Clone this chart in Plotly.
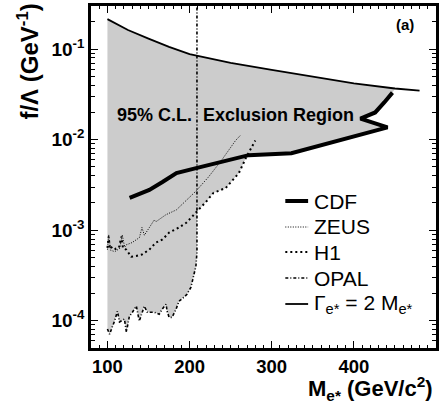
import plotly.graph_objects as go

# ---------------- data ----------------
GAMMA_M = [100, 125, 150, 175, 200, 250, 300, 350, 400, 450, 480]
GAMMA_F = [0.215, 0.163, 0.131, 0.106, 0.088, 0.0705, 0.059, 0.0495, 0.0418, 0.0368, 0.0348]

CDF_M = [127, 151, 167, 184, 208, 239, 272, 324, 441, 408, 426, 437, 447]
CDF_F = [2.28e-3, 2.79e-3, 3.41e-3, 4.28e-3, 4.85e-3, 5.65e-3, 6.75e-3, 7.1e-3,
         1.37e-2, 1.71e-2, 2.0e-2, 2.58e-2, 3.31e-2]

ZEUS_M = [100, 101.5, 104, 109, 115, 118, 121, 123, 130, 139, 142, 145, 147, 157,
          159, 171, 184, 196, 208, 223, 239, 256, 262]
ZEUS_F = [6.1e-4, 8.9e-4, 6.0e-4, 5.8e-4, 6.3e-4, 8.9e-4, 6.5e-4, 6.9e-4, 7.3e-4,
          8.3e-4, 1.07e-3, 8.8e-4, 9.4e-4, 1.30e-3, 1.24e-3, 1.48e-3, 1.68e-3,
          2.16e-3, 2.72e-3, 3.87e-3, 5.94e-3, 9.8e-3, 1.12e-2]

H1_M = [100, 101.5, 103, 106, 110, 114, 117, 119, 123, 129, 135, 142, 151, 159,
        167, 175, 187, 196, 203, 209, 220, 229, 244, 260, 269, 280]
H1_F = [6.4e-4, 8.5e-4, 6.2e-4, 6.6e-4, 6.2e-4, 6.4e-4, 8.5e-4, 6.3e-4, 6.1e-4,
        5.1e-4, 5.2e-4, 5.4e-4, 6.1e-4, 7.3e-4, 7.9e-4, 9.4e-4, 1.07e-3, 1.21e-3,
        1.41e-3, 1.60e-3, 2.06e-3, 2.58e-3, 2.93e-3, 4.28e-3, 6.4e-3, 9.8e-3]

OPAL_M = [100, 102.6, 108.6, 112.2, 114.7, 120.7, 123.1, 126.7, 130.4, 135.2, 138.8,
          141.2, 144.9, 148.5, 156.9, 163, 166.6, 171.4, 172.7, 175.1, 178.7, 183.5,
          187.1, 193.2, 196.8, 201.6, 204.1, 207.7, 209, 209]
OPAL_F = [8.1e-5, 7.1e-5, 9.9e-5, 1.27e-4, 9.7e-5, 1.04e-4, 7.5e-5, 1.12e-4, 1.24e-4,
          1.45e-4, 9.9e-5, 1.18e-4, 1.45e-4, 1.24e-4, 1.24e-4, 1.18e-4, 1.34e-4,
          1.52e-4, 1.27e-4, 1.09e-4, 1.09e-4, 1.34e-4, 1.64e-4, 1.82e-4, 1.96e-4,
          2.34e-4, 2.86e-4, 4.0e-4, 5.7e-4, 0.3]

X_TICKS = [100, 200, 300, 400]
X_TICKTEXT = ["100", "200", "300", "400"]
Y_TICKS = [1e-4, 1e-3, 1e-2, 1e-1]
Y_TICKTEXT = ["10<sup>-4</sup>", "10<sup>-3</sup>", "10<sup>-2</sup>", "10<sup>-1</sup>"]

LEGEND_LABELS = ["CDF", "ZEUS", "H1", "OPAL", "Γ<sub>e*</sub> = 2 M<sub>e*</sub>"]

# ---------------- exclusion region polygon (union of limits) ----------------
g_idx = [i for i, m in enumerate(GAMMA_M) if m <= 450]
c_idx = [i for i, m in enumerate(CDF_M) if m >= 272]
h_idx = [i for i, m in enumerate(H1_M) if 209 <= m <= 269]
o_idx = list(range(len(OPAL_M) - 1))  # OPAL curve without the vertical top point

poly_x = ([GAMMA_M[i] for i in g_idx] + [CDF_M[i] for i in reversed(c_idx)]
          + [H1_M[i] for i in reversed(h_idx)] + [OPAL_M[i] for i in reversed(o_idx)])
poly_y = ([GAMMA_F[i] for i in g_idx] + [CDF_F[i] for i in reversed(c_idx)]
          + [H1_F[i] for i in reversed(h_idx)] + [OPAL_F[i] for i in reversed(o_idx)])

FONT = "Liberation Sans, Arial, Helvetica, sans-serif"

fig = go.Figure()
fig.add_trace(go.Scatter(x=poly_x, y=poly_y, fill="toself", fillcolor="#cccccc",
                         mode="lines", line=dict(width=0), hoverinfo="skip",
                         showlegend=False))

STYLES = {
    "CDF": dict(color="black", width=4),
    "ZEUS": dict(color="black", width=1, dash="1px,1.5px"),
    "H1": dict(color="black", width=2, dash="2px,3px"),
    "OPAL": dict(color="black", width=1.6, dash="3px,2px,1px,2px"),
    "GAMMA": dict(color="black", width=1.8),
}

fig.add_trace(go.Scatter(x=OPAL_M, y=OPAL_F, mode="lines", line=STYLES["OPAL"], name="OPAL", showlegend=False))
fig.add_trace(go.Scatter(x=ZEUS_M, y=ZEUS_F, mode="lines", line=STYLES["ZEUS"], name="ZEUS", showlegend=False))
fig.add_trace(go.Scatter(x=H1_M, y=H1_F, mode="lines", line=STYLES["H1"], name="H1", showlegend=False))
fig.add_trace(go.Scatter(x=GAMMA_M, y=GAMMA_F, mode="lines", line=STYLES["GAMMA"], name="Gamma", showlegend=False))
fig.add_trace(go.Scatter(x=CDF_M, y=CDF_F, mode="lines", line=STYLES["CDF"], name="CDF", showlegend=False))

# geometry helpers (pixel -> paper), plot area is x 91..439, y 6..348
L, R, T, B = 91, 439, 6, 348
def px(x):
    return (x - L) / (R - L)
def py(y):
    return (B - y) / (B - T)

# manual legend
leg_y = [201, 227, 252, 278, 304]
leg_style = [STYLES["CDF"], STYLES["ZEUS"], STYLES["H1"], STYLES["OPAL"], STYLES["GAMMA"]]
for lab, yy, st in zip(LEGEND_LABELS, leg_y, leg_style):
    fig.add_shape(type="line", xref="paper", yref="paper",
                  x0=px(287), x1=px(310), y0=py(yy), y1=py(yy),
                  line=st)
    fig.add_annotation(xref="paper", yref="paper", x=px(314), y=py(yy),
                       xanchor="left", yanchor="middle", showarrow=False,
                       text=lab, font=dict(family=FONT, size=21, color="black"))

fig.add_annotation(xref="paper", yref="paper", x=px(115), y=py(114.5),
                   xanchor="left", yanchor="middle", showarrow=False, text="95% C.L.",
                   font=dict(family=FONT, size=18, color="black", weight="bold"))
fig.add_annotation(xref="paper", yref="paper", x=px(201.5), y=py(114.5),
                   xanchor="left", yanchor="middle", showarrow=False, text="Exclusion Region",
                   font=dict(family=FONT, size=18, color="black", weight="bold"))
fig.add_annotation(xref="paper", yref="paper", x=px(408), y=py(24),
                   xanchor="center", yanchor="middle", showarrow=False, text="(a)",
                   font=dict(family=FONT, size=15, color="black", weight="bold"))
fig.add_annotation(xref="paper", yref="paper", x=px(438), y=py(388),
                   xanchor="right", yanchor="middle", showarrow=False,
                   text="M<sub>e*</sub> (GeV/c<sup>2</sup>)",
                   font=dict(family=FONT, size=22, color="black", weight="bold"))
fig.add_annotation(xref="paper", yref="paper", x=px(27), y=py(62),
                   xanchor="center", yanchor="middle", showarrow=False, textangle=-90,
                   text="f/Λ (GeV<sup>-1</sup>)",
                   font=dict(family=FONT, size=24, color="black", weight="bold"))

minor_y = [k * 10.0 ** e for e in range(-5, 0) for k in range(2, 10)]

fig.update_layout(
    width=442, height=408,
    margin=dict(l=L, r=442 - R, t=T, b=408 - B),
    paper_bgcolor="white", plot_bgcolor="white",
    showlegend=False,
    xaxis=dict(range=[80, 500], showgrid=False, zeroline=False,
               showline=True, linecolor="black", linewidth=2.5, mirror="allticks",
               ticks="inside", ticklen=7, tickwidth=1.2, tickcolor="black",
               tickmode="array", tickvals=X_TICKS, ticktext=X_TICKTEXT,
               ticklabelstandoff=0,
               tickfont=dict(family=FONT, size=18.5, color="black", weight="bold"),
               minor=dict(ticks="inside", ticklen=3, tickwidth=1, tickcolor="black", dtick=10, showgrid=False)),
    yaxis=dict(type="log", range=[-4.30103, -0.522879], showgrid=False, zeroline=False,
               showline=True, linecolor="black", linewidth=2.5, mirror="allticks",
               ticks="inside", ticklen=7, tickwidth=1.2, tickcolor="black",
               tickmode="array", tickvals=Y_TICKS, ticktext=Y_TICKTEXT,
               tickfont=dict(family=FONT, size=19, color="black", weight="bold"),
               minor=dict(ticks="inside", ticklen=4, tickwidth=1, tickcolor="black",
                          tickmode="array", tickvals=minor_y, showgrid=False)),
)

fig.write_html("out.html", config={"displayModeBar": False},
               post_script="document.body.style.margin='0';document.body.style.overflow='hidden';")
